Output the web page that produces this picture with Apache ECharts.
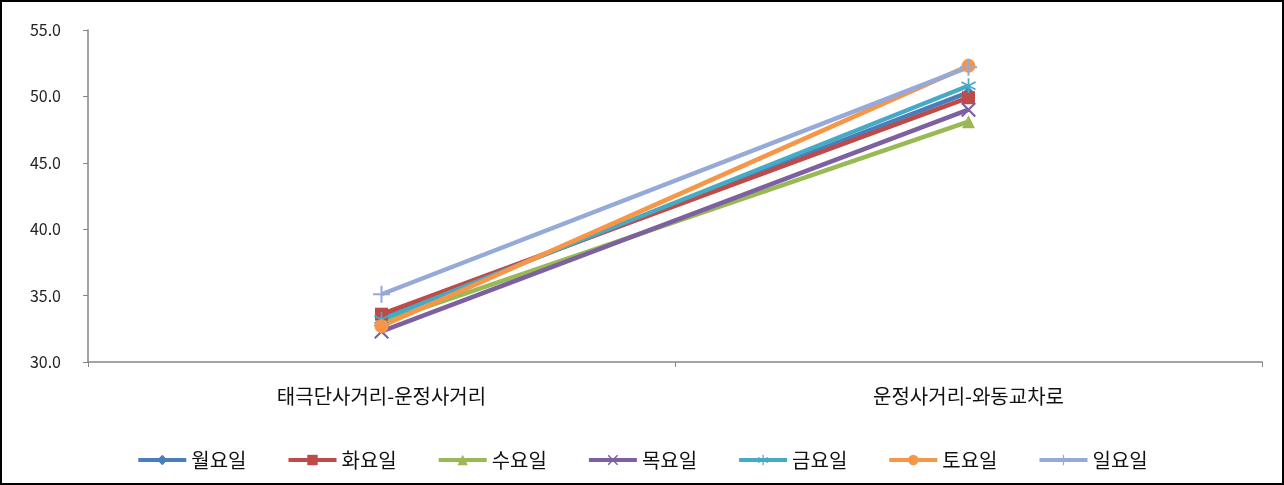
<!DOCTYPE html>
<html><head><meta charset="utf-8">
<script src="https://cdn.jsdelivr.net/npm/echarts@6/dist/echarts.min.js"></script>
<style>
html,body{margin:0;padding:0;background:#fff;}
#frame{position:absolute;left:0;top:0;width:1280px;height:481px;border:2px solid #000;}
#c{position:absolute;left:0;top:0;width:1284px;height:485px;}
</style></head>
<body><div id="frame"></div><div id="c"></div>
<script>
const categories = ['태극단사거리-운정사거리', '운정사거리-와동교차로'];
const seriesNames = ['월요일', '화요일', '수요일', '목요일', '금요일', '토요일', '일요일'];
const mon = [33.4, 50.3];
const tue = [33.6, 49.9];
const wed = [33.0, 48.1];
const thu = [32.3, 49.0];
const fri = [33.2, 50.8];
const sat = [32.7, 52.3];
const sun = [35.1, 52.2];
const yTicks = [30, 35, 40, 45, 50, 55];

const colors = ['#4A7EBB', '#BE4B48', '#98B954', '#7D60A0', '#46AAC5', '#F79646', '#95AAD8'];
const xPath = 'path://M1,0 L5,4 L9,0 L10,1 L6,5 L10,9 L9,10 L5,6 L1,10 L0,9 L4,5 L0,1 Z';
const starPath = 'path://M4.5,0 L5.5,0 L5.5,4 L9,2 L9.5,3 L6,5 L9.5,7 L9,8 L5.5,6 L5.5,10 L4.5,10 L4.5,6 L1,8 L0.5,7 L4,5 L0.5,3 L1,2 L4.5,4 Z';
const plusPath = 'path://M4.4,0 L5.6,0 L5.6,4.4 L10,4.4 L10,5.6 L5.6,5.6 L5.6,10 L4.4,10 L4.4,5.6 L0,5.6 L0,4.4 L4.4,4.4 Z';
const symbols = ['diamond', 'rect', 'triangle', xPath, starPath, 'circle', plusPath];
const sizes = [12, 13, 13, 15, 15, 14, 17];
const data = [mon, tue, wed, thu, fri, sat, sun];

const chart = echarts.init(document.getElementById('c'));
chart.setOption({
  animation: false,
  color: colors,
  textStyle: { fontFamily: '"Noto Sans CJK KR", sans-serif' },
  grid: { left: 88, right: 22, top: 30, bottom: 123 },
  legend: {
    top: 445,
    left: 'center',
    itemWidth: 48,
    itemHeight: 13,
    itemGap: 40,
    lineStyle: { width: 4 },
    textStyle: { fontSize: 20, color: '#111', fontFamily: '"Noto Sans CJK KR", sans-serif' },
    data: seriesNames
  },
  xAxis: {
    type: 'category',
    data: categories,
    axisLine: { lineStyle: { color: '#868686', width: 1.5 } },
    axisTick: { show: true, length: 5, lineStyle: { color: '#868686' } },
    axisLabel: { fontSize: 20, color: '#111', margin: 24 }
  },
  yAxis: {
    type: 'value',
    min: yTicks[0],
    max: yTicks[yTicks.length - 1],
    interval: 5,
    axisLine: { show: true, lineStyle: { color: '#868686', width: 1.5 } },
    axisTick: { show: true, length: 5, lineStyle: { color: '#868686' } },
    splitLine: { show: false },
    axisLabel: { fontSize: 16, color: '#222', margin: 27, formatter: v => v.toFixed(1) }
  },
  series: seriesNames.map((n, i) => ({
    name: n,
    type: 'line',
    data: data[i],
    symbol: symbols[i],
    symbolSize: sizes[i],
    showAllSymbol: true,
    lineStyle: { width: 4.5, color: colors[i] },
    itemStyle: { color: colors[i] }
  }))
});
</script></body></html>
